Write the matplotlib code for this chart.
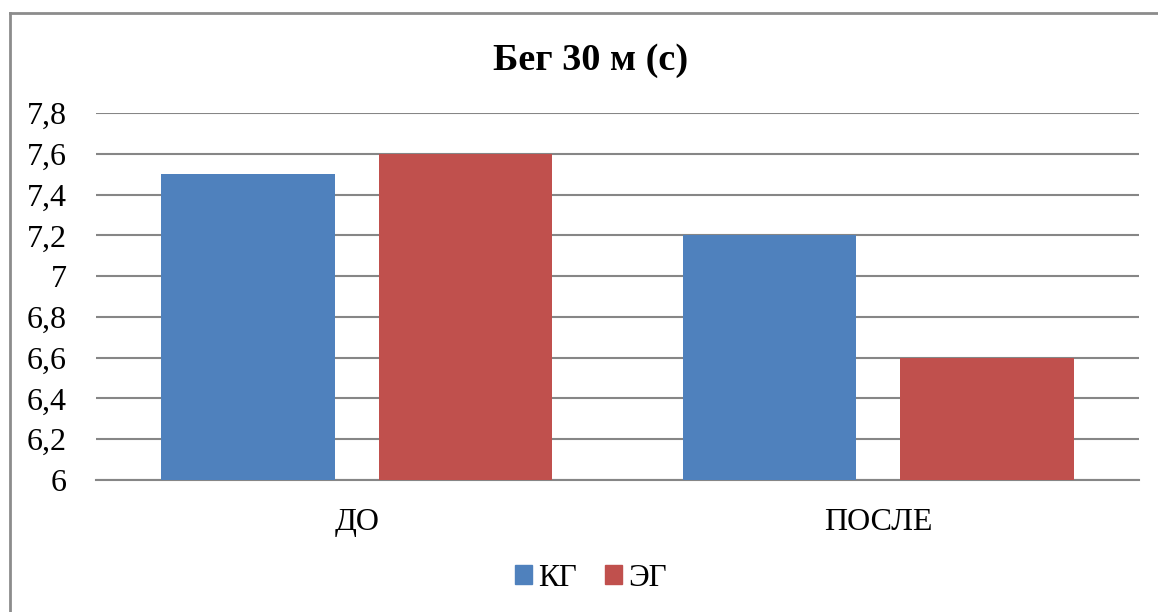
import numpy as np
import matplotlib
matplotlib.use('Agg')
import matplotlib.pyplot as plt
from matplotlib.lines import Line2D
from matplotlib.patches import Patch

# Данные
categorias = ['ДО', 'ПОСЛЕ']
kg = [7.5, 7.2]
eg = [7.6, 6.6]
series_nomes = ['КГ', 'ЭГ']
yticks = [6, 6.2, 6.4, 6.6, 6.8, 7, 7.2, 7.4, 7.6, 7.8]
ytick_labels = ['6', '6,2', '6,4', '6,6', '6,8', '7', '7,2', '7,4', '7,6', '7,8']

cor_kg = '#4F81BD'
cor_eg = '#C0504D'
cor_grade = '#868686'

plt.rcParams['font.family'] = ['Liberation Serif', 'DejaVu Serif']

fig = plt.figure(figsize=(11.58, 6.12), dpi=100)
ax = fig.add_axes([96/1158, 1 - 480/612, (1139 - 96)/1158, (480 - 113)/612])

x = np.arange(len(categorias))
w = 0.332
off = 0.2085
ax.bar(x - off, kg, w, color=cor_kg, zorder=3)
ax.bar(x + off, eg, w, color=cor_eg, zorder=3)

ax.set_xlim(-0.5, 1.5)
ax.set_ylim(6, 7.8)
ax.set_yticks(yticks)
ax.set_yticklabels(ytick_labels)
ax.set_xticks(x)
ax.set_xticklabels(categorias)
ax.tick_params(axis='y', length=0, pad=21, labelsize=23)
ax.tick_params(axis='x', length=0, pad=20, labelsize=23)
ax.grid(axis='y', color=cor_grade, linewidth=1.5, zorder=0)
for s in ['top', 'right', 'left']:
    ax.spines[s].set_visible(False)
ax.spines['bottom'].set_color(cor_grade)
ax.spines['bottom'].set_linewidth(1.5)

fig.text(591/1158, 1 - 60/612, 'Бег 30 м (с)', ha='center', va='center',
         fontsize=27.5, fontweight='bold')

handles = [Patch(color=cor_kg), Patch(color=cor_eg)]
fig.legend(handles, series_nomes, loc='center', bbox_to_anchor=(591/1158, 1 - 578/612),
           ncol=2, frameon=False, fontsize=22.5, handlelength=0.55, handleheight=0.55,
           handletextpad=0.2, columnspacing=0.9)

# рамка
fig.add_artist(Line2D([10/1158, 10/1158], [0, 1 - 13/612], color='#8c8c8c', linewidth=2,
                      transform=fig.transFigure))
fig.add_artist(Line2D([10/1158, 1], [1 - 13/612, 1 - 13/612], color='#8c8c8c', linewidth=2,
                      transform=fig.transFigure))

fig.savefig('out.png', dpi=100)
